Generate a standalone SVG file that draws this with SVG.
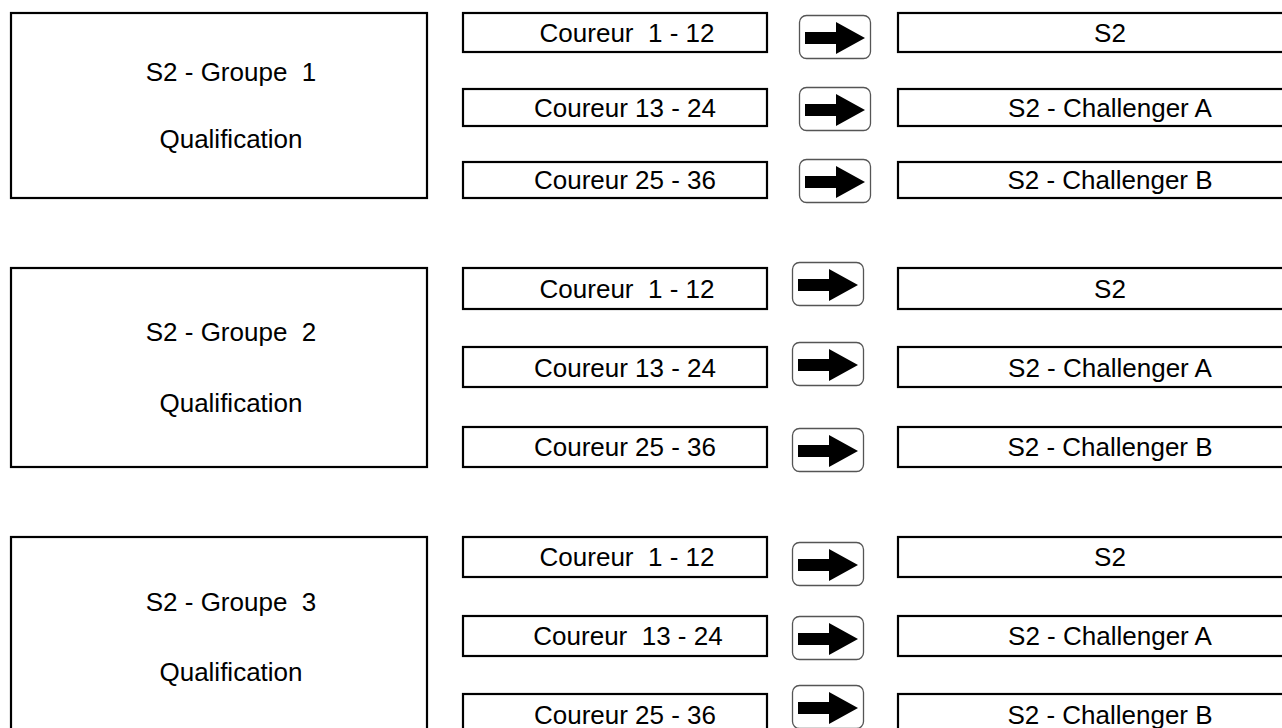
<svg xmlns="http://www.w3.org/2000/svg" width="1282" height="728" viewBox="0 0 1282 728">
<defs>
<style>
.box{fill:#fff;stroke:#000;stroke-width:2.2}
.btn{fill:#fff;stroke:#555;stroke-width:1.3}
.arr{fill:#000}
text{font-family:"Liberation Sans",Arial,sans-serif;font-size:26px;fill:#000;text-anchor:middle;white-space:pre}
</style>
<g id="arrowbtn">
<rect class="btn" x="0.5" y="0.5" width="71" height="43" rx="7"/>
<polygon class="arr" points="6,17 37,17 37,7 66,23 37,39 37,29 6,29"/>
</g>
</defs>
<rect width="1282" height="728" fill="#fff"/>
<g id="group1">
<g id="g1-qual"><rect class="box" x="11" y="13" width="416" height="185"/><text x="231" y="81" xml:space="preserve">S2 - Groupe  1</text><text x="231" y="148">Qualification</text></g>
<g id="g1-c1"><rect class="box" x="463" y="13" width="304" height="39"/><text x="627" y="42" xml:space="preserve">Coureur  1 - 12</text></g>
<g id="g1-c2"><rect class="box" x="463" y="89" width="304" height="37"/><text x="625" y="117">Coureur 13 - 24</text></g>
<g id="g1-c3"><rect class="box" x="463" y="162" width="304" height="36"/><text x="625" y="189">Coureur 25 - 36</text></g>
<g id="g1-r1"><rect class="box" x="898" y="13" width="430" height="39"/><text x="1110" y="42">S2</text></g>
<g id="g1-r2"><rect class="box" x="898" y="89" width="430" height="37"/><text x="1110" y="117">S2 - Challenger A</text></g>
<g id="g1-r3"><rect class="box" x="898" y="162" width="430" height="36"/><text x="1110" y="189">S2 - Challenger B</text></g>
</g>
<g id="group2">
<g id="g2-qual"><rect class="box" x="11" y="268" width="416" height="199"/><text x="231" y="341" xml:space="preserve">S2 - Groupe  2</text><text x="231" y="412">Qualification</text></g>
<g id="g2-c1"><rect class="box" x="463" y="268" width="304" height="41"/><text x="627" y="298" xml:space="preserve">Coureur  1 - 12</text></g>
<g id="g2-c2"><rect class="box" x="463" y="347" width="304" height="40"/><text x="625" y="377">Coureur 13 - 24</text></g>
<g id="g2-c3"><rect class="box" x="463" y="427" width="304" height="40"/><text x="625" y="456">Coureur 25 - 36</text></g>
<g id="g2-r1"><rect class="box" x="898" y="268" width="430" height="41"/><text x="1110" y="298">S2</text></g>
<g id="g2-r2"><rect class="box" x="898" y="347" width="430" height="40"/><text x="1110" y="377">S2 - Challenger A</text></g>
<g id="g2-r3"><rect class="box" x="898" y="427" width="430" height="40"/><text x="1110" y="456">S2 - Challenger B</text></g>
</g>
<g id="group3">
<g id="g3-qual"><rect class="box" x="11" y="537" width="416" height="200"/><text x="231" y="611" xml:space="preserve">S2 - Groupe  3</text><text x="231" y="681">Qualification</text></g>
<g id="g3-c1"><rect class="box" x="463" y="537" width="304" height="40"/><text x="627" y="566" xml:space="preserve">Coureur  1 - 12</text></g>
<g id="g3-c2"><rect class="box" x="463" y="616" width="304" height="40"/><text x="628" y="645" xml:space="preserve">Coureur  13 - 24</text></g>
<g id="g3-c3"><rect class="box" x="463" y="694" width="304" height="40"/><text x="625" y="724">Coureur 25 - 36</text></g>
<g id="g3-r1"><rect class="box" x="898" y="537" width="430" height="40"/><text x="1110" y="566">S2</text></g>
<g id="g3-r2"><rect class="box" x="898" y="616" width="430" height="40"/><text x="1110" y="645">S2 - Challenger A</text></g>
<g id="g3-r3"><rect class="box" x="898" y="694" width="430" height="40"/><text x="1110" y="724">S2 - Challenger B</text></g>
</g>
<g id="connectors">
<use href="#arrowbtn" x="799" y="15"/>
<use href="#arrowbtn" x="799" y="87"/>
<use href="#arrowbtn" x="799" y="159"/>
<use href="#arrowbtn" x="792" y="262"/>
<use href="#arrowbtn" x="792" y="342"/>
<use href="#arrowbtn" x="792" y="428"/>
<use href="#arrowbtn" x="792" y="542"/>
<use href="#arrowbtn" x="792" y="616"/>
<use href="#arrowbtn" x="792" y="685"/>
</g>
</svg>
